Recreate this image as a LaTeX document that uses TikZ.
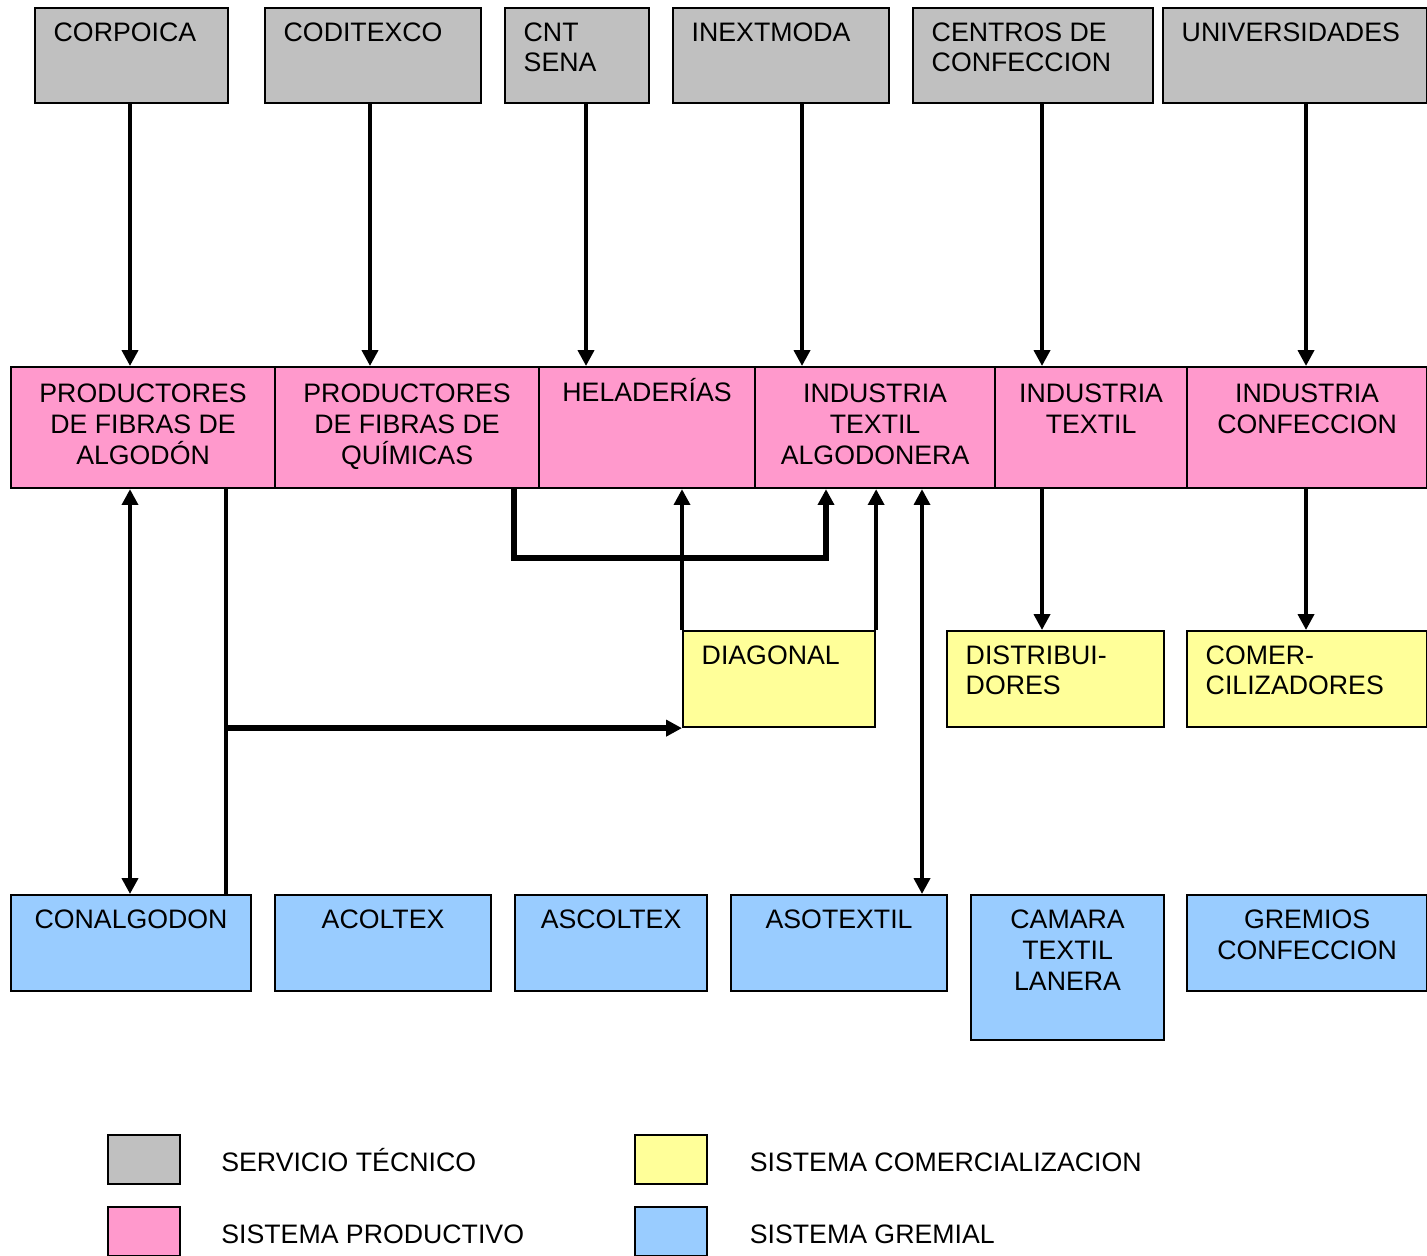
\documentclass[tikz,border=0pt]{standalone}
\usepackage{fontspec}
\setmainfont{Liberation Sans}
\usetikzlibrary{arrows.meta}

\definecolor{gris}{HTML}{C0C0C0}
\definecolor{rosa}{HTML}{FF99CC}
\definecolor{amarillo}{HTML}{FFFF99}
\definecolor{celeste}{HTML}{99CCFF}

\tikzset{
  caja/.style={draw=black, line width=0.6pt, inner sep=0pt, anchor=north west, minimum height=0.95cm},
  tec/.style={caja, fill=gris},
  prod/.style={caja, fill=rosa, minimum height=1.21cm},
  com/.style={caja, fill=amarillo, minimum height=0.96cm},
  grem/.style={caja, fill=celeste, minimum height=0.96cm},
  izq/.style={anchor=north west, align=left, inner xsep=0.19cm, inner ysep=0.15cm},
  cen/.style={anchor=north, align=center, inner xsep=0pt, inner ysep=0.155cm},
  cenp/.style={cen, inner ysep=0.175cm},
  punta/.tip={Triangle[length=4.5pt,width=4.5pt]},
  linea/.style={line width=1.1pt},
  flecha/.style={linea, -punta},
  doble/.style={linea, punta-punta},
  grueso/.style={line width=1.5pt}
}

\begin{document}
\begin{tikzpicture}[font=\fontsize{7.6pt}{8.7pt}\selectfont]
\useasboundingbox (0,0) rectangle (14.27,-12.55);

% servicio tecnico
\node[tec, minimum width=1.93cm, label={[izq]north west:CORPOICA}] (corpoica) at ( 0.34, -0.07) {};
\node[tec, minimum width=2.16cm, label={[izq]north west:CODITEXCO}] (coditexco) at ( 2.64, -0.07) {};
\node[tec, minimum width=1.44cm, label={[izq]north west:CNT\\SENA}] (cnt) at ( 5.04, -0.07) {};
\node[tec, minimum width=2.16cm, label={[izq]north west:INEXTMODA}] (inexmoda) at ( 6.72, -0.07) {};
\node[tec, minimum width=2.40cm, label={[izq]north west:CENTROS DE\\CONFECCION}] (centros) at ( 9.12, -0.07) {};
\node[tec, minimum width=2.64cm, label={[izq]north west:UNIVERSIDADES}] (univ) at (11.62, -0.07) {};

% sistema productivo
\node[prod, minimum width=2.64cm, label={[cenp]north:PRODUCTORES\\DE FIBRAS DE\\ALGODÓN}] (pfa) at ( 0.10, -3.66) {};
\node[prod, minimum width=2.64cm, label={[cenp]north:PRODUCTORES\\DE FIBRAS DE\\QUÍMICAS}] (pfq) at ( 2.74, -3.66) {};
\node[prod, minimum width=2.16cm, label={[cenp, inner ysep=0.115cm]north:HELADERÍAS}] (helad) at ( 5.38, -3.66) {};
\node[prod, minimum width=2.40cm, label={[cenp]north:INDUSTRIA\\TEXTIL\\ALGODONERA}] (ita) at ( 7.54, -3.66) {};
\node[prod, minimum width=1.92cm, label={[cenp]north:INDUSTRIA\\TEXTIL}] (it) at ( 9.94, -3.66) {};
\node[prod, minimum width=2.40cm, label={[cenp]north:INDUSTRIA\\CONFECCION}] (ic) at (11.86, -3.66) {};

% comercializacion
\node[com, minimum width=1.92cm, label={[izq]north west:DIAGONAL}] (diag) at ( 6.82, -6.30) {};
\node[com, minimum width=2.17cm, label={[izq]north west:DISTRIBUI-\\DORES}] (dist) at ( 9.46, -6.30) {};
\node[com, minimum width=2.40cm, label={[izq]north west:COMER-\\CILIZADORES}] (comer) at (11.86, -6.30) {};

% gremios
\node[grem, minimum width=2.40cm, label={[cen]north:CONALGODON}] (conal) at ( 0.10, -8.94) {};
\node[grem, minimum width=2.16cm, label={[cen]north:ACOLTEX}] (acol) at ( 2.74, -8.94) {};
\node[grem, minimum width=1.92cm, label={[cen]north:ASCOLTEX}] (ascol) at ( 5.14, -8.94) {};
\node[grem, minimum width=2.16cm, label={[cen]north:ASOTEXTIL}] (asot) at ( 7.30, -8.94) {};
\node[grem, minimum width=1.93cm, minimum height=1.45cm, label={[cen]north:CAMARA\\TEXTIL\\LANERA}] (camara) at ( 9.70, -8.94) {};
\node[grem, minimum width=2.40cm, label={[cen]north:GREMIOS\\CONFECCION}] (gremios) at (11.86, -8.94) {};

% verticales
\coordinate (v1) at ( 1.30, 0);
\coordinate (v2) at ( 3.70, 0);
\coordinate (v3) at ( 5.86, 0);
\coordinate (v4) at ( 8.02, 0);
\coordinate (v5) at (10.42, 0);
\coordinate (v6) at (13.06, 0);
\coordinate (v7) at ( 2.26, 0);
\coordinate (v8) at ( 5.14, 0);
\coordinate (v9) at ( 8.26, 0);
\coordinate (v10) at ( 9.22, 0);
\coordinate (h1) at (0, -5.58);

\draw[flecha] (corpoica.south -| v1) -- (pfa.north -| v1);
\draw[flecha] (coditexco.south -| v2) -- (pfq.north -| v2);
\draw[flecha] (cnt.south -| v3) -- (helad.north -| v3);
\draw[flecha] (inexmoda.south -| v4) -- (ita.north -| v4);
\draw[flecha] (centros.south -| v5) -- (it.north -| v5);
\draw[flecha] (univ.south -| v6) -- (ic.north -| v6);

\draw[doble] (pfa.south -| v1) -- (conal.north -| v1);
\draw[linea] (pfa.south -| v7) -- (conal.north -| v7);
\draw[flecha, grueso] (diag.south west -| v7) -- (diag.south west);

\draw[flecha, grueso] (pfq.south -| v8) |- (h1 -| v9) -- (ita.south -| v9);
\draw[flecha] (diag.north west) -- (helad.south -| diag.north west);
\draw[flecha] (diag.north east) -- (ita.south -| diag.north east);
\draw[doble] (ita.south -| v10) -- (asot.north -| v10);

\draw[flecha] (it.south -| v5) -- (dist.north -| v5);
\draw[flecha] (ic.south -| v6) -- (comer.north -| v6);

% leyenda
\node[tec, minimum width=0.72cm, minimum height=0.49cm] (ley1) at (1.07, -11.34) {};
\node[prod, minimum width=0.72cm, minimum height=0.49cm] (ley2) at (1.07, -12.06) {};
\node[com, minimum width=0.72cm, minimum height=0.49cm] (ley3) at (6.34, -11.34) {};
\node[grem, minimum width=0.72cm, minimum height=0.49cm] (ley4) at (6.34, -12.06) {};
\node[anchor=base west, inner sep=0pt] (ley1t) at ([xshift=3.95mm, yshift=-1.15mm]ley1.east) {SERVICIO TÉCNICO};
\node[anchor=base west, inner sep=0pt] (ley2t) at ([xshift=3.95mm, yshift=-1.15mm]ley2.east) {SISTEMA PRODUCTIVO};
\node[anchor=base west, inner sep=0pt] (ley3t) at ([xshift=4.1mm, yshift=-1.15mm]ley3.east) {SISTEMA COMERCIALIZACION};
\node[anchor=base west, inner sep=0pt] (ley4t) at ([xshift=4.1mm, yshift=-1.15mm]ley4.east) {SISTEMA GREMIAL};

\end{tikzpicture}
\end{document}
